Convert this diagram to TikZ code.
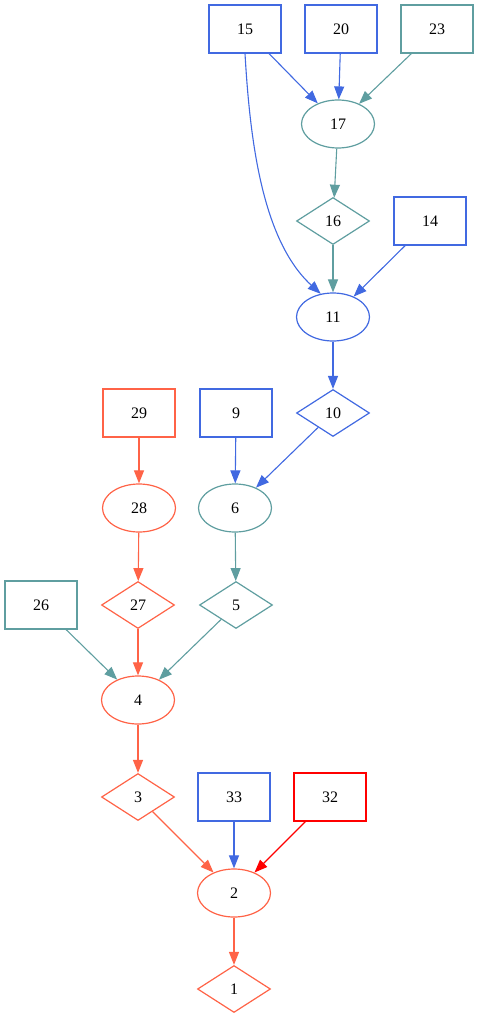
\documentclass[tikz,border=0pt]{standalone}
\usepackage{fontspec}
\setmainfont{Liberation Serif}
\usetikzlibrary{shapes.geometric,arrows.meta}
\definecolor{cblue}{HTML}{4169E1}
\definecolor{ccadet}{HTML}{5F9EA0}
\definecolor{ctomato}{HTML}{FF6347}
\definecolor{cred}{HTML}{FF0000}
\begin{document}
\begin{tikzpicture}[x=1pt,y=-1pt,
  every node/.style={font=\fontsize{16}{18}\selectfont, line width=1.2pt, inner sep=0pt, text=black},
  boxnode/.style={draw=#1, rectangle, minimum width=72pt, minimum height=48pt},
  ellnode/.style={draw=#1, ellipse, minimum width=73pt, minimum height=48pt},
  dianode/.style={draw=#1, diamond, minimum width=73pt, minimum height=47pt},
  edge/.style={draw=#1, line width=1.1pt, -{Triangle[length=13pt,width=10pt,fill=#1]}},
]
\useasboundingbox (0,0) rectangle (479,1019);
% nodes
\node[boxnode=cblue] (n15) at (245,29) {15};
\node[boxnode=cblue] (n20) at (341,29) {20};
\node[boxnode=ccadet] (n23) at (437,29) {23};
\node[ellnode=ccadet] (n17) at (338,124) {17};
\node[dianode=ccadet] (n16) at (333,221) {16};
\node[boxnode=cblue] (n14) at (430,221) {14};
\node[ellnode=cblue] (n11) at (333,317) {11};
\node[dianode=cblue] (n10) at (333,413) {10};
\node[boxnode=ctomato] (n29) at (139,413) {29};
\node[boxnode=cblue] (n9) at (236,413) {9};
\node[ellnode=ctomato] (n28) at (139,508) {28};
\node[ellnode=ccadet] (n6) at (235,508) {6};
\node[boxnode=ccadet] (n26) at (41,605) {26};
\node[dianode=ctomato] (n27) at (138,605) {27};
\node[dianode=ccadet] (n5) at (236,605) {5};
\node[ellnode=ctomato] (n4) at (138,700) {4};
\node[dianode=ctomato] (n3) at (138,797) {3};
\node[boxnode=cblue] (n33) at (234,797) {33};
\node[boxnode=cred] (n32) at (330,797) {32};
\node[ellnode=ctomato] (n2) at (234,893) {2};
\node[dianode=ctomato] (n1) at (234,989) {1};
% edges
\draw[edge=cblue] (n15) -- (n17);
\draw[edge=cblue] (n20) -- (n17);
\draw[edge=ccadet] (n23) -- (n17);
\draw[edge=ccadet] (n17) -- (n16);
\draw[edge=ccadet] (n16) -- (n11);
\draw[edge=cblue] (n15.south) .. controls (250,140) and (262,240) .. (n11.118);
\draw[edge=cblue] (n14) -- (n11);
\draw[edge=cblue] (n11) -- (n10);
\draw[edge=cblue] (n10) -- (n6);
\draw[edge=cblue] (n9) -- (n6);
\draw[edge=ctomato] (n29) -- (n28);
\draw[edge=ctomato] (n28) -- (n27);
\draw[edge=ccadet] (n6) -- (n5);
\draw[edge=ctomato] (n27) -- (n4);
\draw[edge=ccadet] (n5) -- (n4);
\draw[edge=ccadet] (n26) -- (n4);
\draw[edge=ctomato] (n4) -- (n3);
\draw[edge=ctomato] (n3) -- (n2);
\draw[edge=cblue] (n33) -- (n2);
\draw[edge=cred] (n32) -- (n2);
\draw[edge=ctomato] (n2) -- (n1);
\end{tikzpicture}
\end{document}
